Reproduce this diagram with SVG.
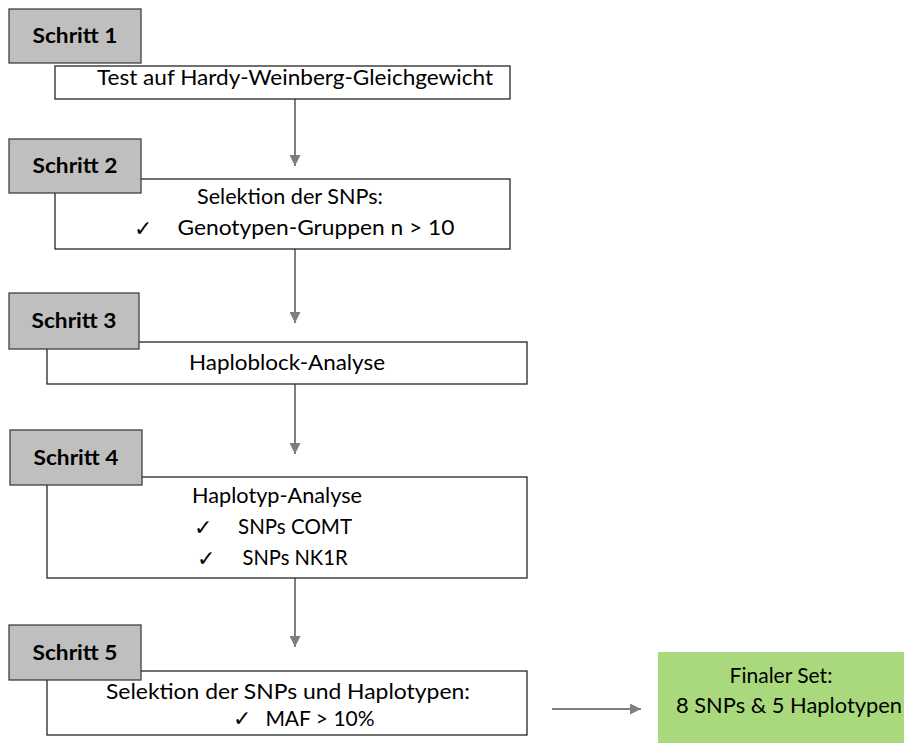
<svg xmlns="http://www.w3.org/2000/svg" width="904" height="749" viewBox="0 0 904 749">
<defs>
<marker id="ah" viewBox="0 0 10 10" refX="10" refY="5" markerWidth="5.5" markerHeight="5.5" orient="auto" markerUnits="strokeWidth">
<path d="M0,0 L10,5 L0,10 z" fill="#7f7f7f"/>
</marker>
<style>
.step{fill:#bfbfbf;stroke:#404040;stroke-width:1.3}
.box{fill:#ffffff;stroke:#262626;stroke-width:1.3}
.lbl{font-family:Lato,"Liberation Sans",sans-serif;font-weight:bold;font-size:20px;fill:#000;text-anchor:middle}
.t{font-family:Lato,"Liberation Sans",sans-serif;font-size:21px;fill:#000;text-anchor:middle}
.ck{font-family:"DejaVu Sans",sans-serif;font-size:22px;fill:#000}
.conn{stroke:#7f7f7f;stroke-width:2;fill:none;marker-end:url(#ah)}
</style>
</defs>
<rect width="904" height="749" fill="#fff"/>
<g id="connectors">
<line class="conn" x1="295" y1="98" x2="295" y2="166"/>
<line class="conn" x1="295" y1="249" x2="295" y2="323"/>
<line class="conn" x1="295" y1="384" x2="295" y2="454"/>
<line class="conn" x1="295" y1="578" x2="295" y2="647"/>
<line class="conn" x1="552" y1="709" x2="641" y2="709"/>
</g>
<g id="step1">
<rect class="box" x="55" y="66" width="455" height="33"/>
<rect class="step" x="9" y="9" width="132" height="54"/>
<text class="lbl" x="75" y="43" textLength="85" lengthAdjust="spacingAndGlyphs">Schritt 1</text>
<text class="t" x="295" y="85" textLength="396" lengthAdjust="spacingAndGlyphs">Test auf Hardy-Weinberg-Gleichgewicht</text>
</g>
<g id="step2">
<rect class="box" x="55" y="179" width="455" height="70"/>
<rect class="step" x="9" y="139" width="132" height="54"/>
<text class="lbl" x="75" y="173" textLength="85" lengthAdjust="spacingAndGlyphs">Schritt 2</text>
<text class="t" x="290" y="204" textLength="186" lengthAdjust="spacingAndGlyphs">Selektion der SNPs:</text>
<text class="ck" x="134" y="236">✓</text>
<text class="t" x="316" y="235" textLength="277" lengthAdjust="spacingAndGlyphs">Genotypen-Gruppen n &gt; 10</text>
</g>
<g id="step3">
<rect class="box" x="47" y="342" width="480" height="42"/>
<rect class="step" x="9" y="293" width="130" height="56"/>
<text class="lbl" x="74" y="328" textLength="85" lengthAdjust="spacingAndGlyphs">Schritt 3</text>
<text class="t" x="287" y="370" textLength="196" lengthAdjust="spacingAndGlyphs">Haploblock-Analyse</text>
</g>
<g id="step4">
<rect class="box" x="47" y="477" width="480" height="101"/>
<rect class="step" x="10" y="430" width="132" height="55"/>
<text class="lbl" x="76" y="465" textLength="85" lengthAdjust="spacingAndGlyphs">Schritt 4</text>
<text class="t" x="277" y="503" textLength="170" lengthAdjust="spacingAndGlyphs">Haplotyp-Analyse</text>
<text class="ck" x="194" y="535">✓</text>
<text class="t" x="295" y="534" textLength="114" lengthAdjust="spacingAndGlyphs">SNPs COMT</text>
<text class="ck" x="197" y="566">✓</text>
<text class="t" x="295" y="565" textLength="105" lengthAdjust="spacingAndGlyphs">SNPs NK1R</text>
</g>
<g id="step5">
<rect class="box" x="47" y="671" width="480" height="64"/>
<rect class="step" x="9" y="625" width="132" height="55"/>
<text class="lbl" x="75" y="660" textLength="85" lengthAdjust="spacingAndGlyphs">Schritt 5</text>
<text class="t" x="288" y="699" textLength="364" lengthAdjust="spacingAndGlyphs">Selektion der SNPs und Haplotypen:</text>
<text class="ck" x="233" y="726">✓</text>
<text class="t" x="320" y="726">MAF &gt; 10%</text>
</g>
<g id="final">
<rect x="658" y="652" width="246" height="91" fill="#a9d97c"/>
<text class="t" x="781" y="683">Finaler Set:</text>
<text class="t" x="789" y="713" textLength="226" lengthAdjust="spacingAndGlyphs">8 SNPs &amp; 5 Haplotypen</text>
</g>
</svg>
